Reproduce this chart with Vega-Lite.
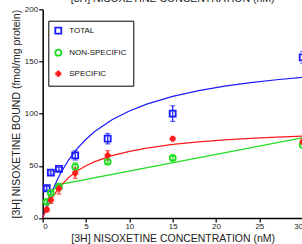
{
  "$schema": "https://vega.github.io/schema/vega-lite/v6.json",
  "width": 260,
  "height": 208.7,
  "autosize": {"type": "none"},
  "padding": {"left": 42.7, "top": 9.3, "right": 0, "bottom": 26},
  "background": "white",
  "title": {"text": "[3H] NISOXETINE CONCENTRATION (nM)", "fontSize": 10.5, "font": "Liberation Sans", "fontWeight": "normal", "color": "#222", "offset": 1, "frame": "group", "anchor": "middle"},
  "config": {
    "view": {"stroke": null},
    "axis": {"domainColor": "black", "domainWidth": 1.5, "tickColor": "black", "tickWidth": 1.2, "tickSize": 4, "labelFont": "Liberation Sans", "labelFontSize": 8, "labelColor": "#222", "titleFont": "Liberation Sans", "titleFontSize": 10.5, "titleFontWeight": "normal", "titleColor": "#222", "grid": false, "labelPadding": 1}
  },
  "datasets": {
    "points": [
      {"x": 0.47, "y": 28.5, "lo": 27, "hi": 30, "series": "TOTAL"},
      {"x": 0.94, "y": 43.5, "lo": 42, "hi": 45, "series": "TOTAL"},
      {"x": 1.875, "y": 47, "lo": 45.5, "hi": 48.5, "series": "TOTAL"},
      {"x": 3.75, "y": 60, "lo": 55.5, "hi": 64.5, "series": "TOTAL"},
      {"x": 7.5, "y": 76, "lo": 71, "hi": 81, "series": "TOTAL"},
      {"x": 15, "y": 100, "lo": 92.5, "hi": 107.5, "series": "TOTAL"},
      {"x": 30, "y": 154, "lo": 148.5, "hi": 159.5, "series": "TOTAL"},
      {"x": 0.47, "y": 15.5, "lo": 14, "hi": 17, "series": "NON-SPECIFIC"},
      {"x": 0.94, "y": 24, "lo": 22.5, "hi": 25.5, "series": "NON-SPECIFIC"},
      {"x": 1.875, "y": 30, "lo": 28.5, "hi": 31.5, "series": "NON-SPECIFIC"},
      {"x": 3.75, "y": 49, "lo": 45, "hi": 53, "series": "NON-SPECIFIC"},
      {"x": 7.5, "y": 54, "lo": 52.5, "hi": 55.5, "series": "NON-SPECIFIC"},
      {"x": 15, "y": 57.5, "lo": 56, "hi": 59, "series": "NON-SPECIFIC"},
      {"x": 30, "y": 70, "lo": 68, "hi": 72, "series": "NON-SPECIFIC"},
      {"x": 0.47, "y": 8, "lo": 6, "hi": 10, "series": "SPECIFIC"},
      {"x": 0.94, "y": 17, "lo": 14, "hi": 20, "series": "SPECIFIC"},
      {"x": 1.875, "y": 28, "lo": 23, "hi": 33, "series": "SPECIFIC"},
      {"x": 3.75, "y": 43, "lo": 38, "hi": 48, "series": "SPECIFIC"},
      {"x": 7.5, "y": 60, "lo": 55.5, "hi": 64.5, "series": "SPECIFIC"},
      {"x": 15, "y": 76, "lo": 74.5, "hi": 77.5, "series": "SPECIFIC"},
      {"x": 30, "y": 73, "lo": 70.5, "hi": 75.5, "series": "SPECIFIC"}
    ],
    "curves": [
      {"x": 0, "y": 0, "series": "TOTAL"},
      {"x": 0.5, "y": 13.1, "series": "TOTAL"},
      {"x": 1, "y": 24.2, "series": "TOTAL"},
      {"x": 2, "y": 42.1, "series": "TOTAL"},
      {"x": 3, "y": 55.8, "series": "TOTAL"},
      {"x": 4, "y": 66.7, "series": "TOTAL"},
      {"x": 5, "y": 75.5, "series": "TOTAL"},
      {"x": 6, "y": 82.8, "series": "TOTAL"},
      {"x": 8, "y": 94.1, "series": "TOTAL"},
      {"x": 10, "y": 102.6, "series": "TOTAL"},
      {"x": 12, "y": 109.1, "series": "TOTAL"},
      {"x": 15, "y": 116.5, "series": "TOTAL"},
      {"x": 18, "y": 122.0, "series": "TOTAL"},
      {"x": 21, "y": 126.3, "series": "TOTAL"},
      {"x": 24, "y": 129.7, "series": "TOTAL"},
      {"x": 27, "y": 132.5, "series": "TOTAL"},
      {"x": 30, "y": 134.8, "series": "TOTAL"},
      {"x": 0.47, "y": 15.5, "series": "NON-SPECIFIC"},
      {"x": 0.94, "y": 24, "series": "NON-SPECIFIC"},
      {"x": 1.875, "y": 32, "series": "NON-SPECIFIC"},
      {"x": 30, "y": 77, "series": "NON-SPECIFIC"},
      {"x": 0, "y": 0, "series": "SPECIFIC"},
      {"x": 0.5, "y": 10.2, "series": "SPECIFIC"},
      {"x": 1, "y": 18.3, "series": "SPECIFIC"},
      {"x": 2, "y": 30.3, "series": "SPECIFIC"},
      {"x": 3, "y": 38.8, "series": "SPECIFIC"},
      {"x": 4, "y": 45.2, "series": "SPECIFIC"},
      {"x": 5, "y": 50.1, "series": "SPECIFIC"},
      {"x": 6, "y": 54.0, "series": "SPECIFIC"},
      {"x": 8, "y": 59.8, "series": "SPECIFIC"},
      {"x": 10, "y": 63.9, "series": "SPECIFIC"},
      {"x": 12, "y": 67.0, "series": "SPECIFIC"},
      {"x": 15, "y": 70.5, "series": "SPECIFIC"},
      {"x": 18, "y": 72.9, "series": "SPECIFIC"},
      {"x": 21, "y": 74.8, "series": "SPECIFIC"},
      {"x": 24, "y": 76.3, "series": "SPECIFIC"},
      {"x": 27, "y": 77.5, "series": "SPECIFIC"},
      {"x": 30, "y": 78.5, "series": "SPECIFIC"}
    ]
  },
  "encoding": {
    "x": {"field": "x", "type": "quantitative", "scale": {"domain": [0, 30], "nice": false}, "axis": {"values": [0, 5, 10, 15, 20, 25, 30], "title": "[3H] NISOXETINE CONCENTRATION (nM)", "titlePadding": 3}},
    "y": {"field": "y", "type": "quantitative", "scale": {"domain": [0, 200], "nice": false}, "axis": {"values": [0, 50, 100, 150, 200], "title": "[3H] NISOXETINE BOUND (fmol/mg protein)", "titlePadding": 3}}
  },
  "layer": [
    {
      "data": {"name": "curves"},
      "mark": {"type": "line", "strokeWidth": 1.2},
      "encoding": {
        "color": {"field": "series", "type": "nominal", "scale": {"domain": ["SPECIFIC", "TOTAL", "NON-SPECIFIC"], "range": ["#ff1a1a", "#1a1aff", "#22dd22"]}, "legend": null}
      }
    },
    {
      "data": {"name": "points"},
      "mark": {"type": "rule", "strokeWidth": 1.2},
      "encoding": {
        "y": {"field": "lo", "type": "quantitative"},
        "y2": {"field": "hi"},
        "color": {"field": "series", "type": "nominal", "legend": null}
      }
    },
    {
      "data": {"name": "points"},
      "mark": {"type": "tick", "orient": "horizontal", "size": 5, "thickness": 1.2},
      "encoding": {
        "y": {"field": "lo", "type": "quantitative"},
        "color": {"field": "series", "type": "nominal", "legend": null}
      }
    },
    {
      "data": {"name": "points"},
      "mark": {"type": "tick", "orient": "horizontal", "size": 5, "thickness": 1.2},
      "encoding": {
        "y": {"field": "hi", "type": "quantitative"},
        "color": {"field": "series", "type": "nominal", "legend": null}
      }
    },
    {
      "data": {"name": "points"},
      "mark": {"type": "point", "size": 36, "strokeWidth": 1.8, "opacity": 1},
      "encoding": {
        "shape": {"field": "series", "type": "nominal", "scale": {"domain": ["TOTAL", "NON-SPECIFIC", "SPECIFIC"], "range": ["square", "circle", "M-0.22,-0.7H0.22V-0.22H-0.22Z M0.22,-0.22H0.7V0.22H0.22Z M-0.22,0.22H0.22V0.7H-0.22Z M-0.7,-0.22H-0.22V0.22H-0.7Z"]},
          "legend": {"orient": "none", "legendX": 5.6, "legendY": 11.4, "title": null, "strokeColor": "black", "padding": 6, "labelFontSize": 8, "labelFont": "Liberation Sans", "labelColor": "#111", "symbolSize": 36, "symbolStrokeWidth": 1.8, "rowPadding": 8, "labelOffset": 7, "fillColor": "white"}},
        "stroke": {"field": "series", "type": "nominal", "scale": {"domain": ["TOTAL", "NON-SPECIFIC", "SPECIFIC"], "range": ["#1a1aff", "#22dd22", "#ff1a1a"]},
          "legend": {"orient": "none", "legendX": 5.6, "legendY": 11.4, "title": null, "strokeColor": "black", "padding": 6, "labelFontSize": 8, "labelFont": "Liberation Sans", "labelColor": "#111", "symbolSize": 36, "symbolStrokeWidth": 1.8, "rowPadding": 8, "labelOffset": 7, "fillColor": "white"}},
        "fill": {"field": "series", "type": "nominal", "scale": {"domain": ["TOTAL", "NON-SPECIFIC", "SPECIFIC"], "range": ["transparent", "transparent", "#ff1a1a"]},
          "legend": {"orient": "none", "legendX": 5.6, "legendY": 11.4, "title": null, "strokeColor": "black", "padding": 6, "labelFontSize": 8, "labelFont": "Liberation Sans", "labelColor": "#111", "symbolSize": 36, "symbolStrokeWidth": 1.8, "rowPadding": 8, "labelOffset": 7, "fillColor": "white"}}
      }
    }
  ]
}
